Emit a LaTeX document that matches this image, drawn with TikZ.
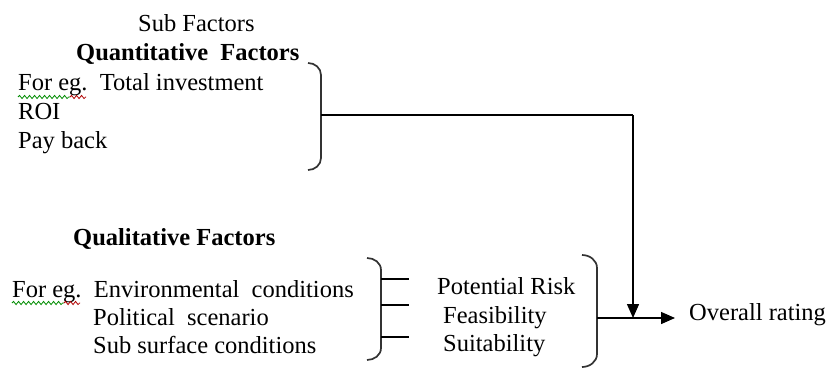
\documentclass[tikz,border=0pt]{standalone}
\usepackage{fontspec}
\setmainfont{Liberation Serif}
\usetikzlibrary{arrows.meta,decorations.pathmorphing}
\begin{document}
\begin{tikzpicture}[x=1pt,y=-1pt,
  txt/.style={inner sep=0pt,anchor=base west,font=\fontsize{24.5}{28}\selectfont},
  hd/.style={txt,font=\fontsize{24.5}{28}\selectfont\bfseries},
  ln/.style={line width=1.4pt,black},
  brk/.style={line width=1.7pt,black!80},
  arr/.style={ln,-{Triangle[length=14pt,width=12pt]}},
  wavy/.style={line width=0.8pt,decorate,decoration={snake,amplitude=1.6pt,segment length=5pt}}]
\useasboundingbox[fill=white] (0,0) rectangle (828,369);
% texts
\node[txt] (sub) at (138,32) {Sub Factors};
\node[hd] (quant) at (76,61) {Quantitative\ \ Factors};
\node[txt] (inv) at (18,91) {For eg.\ \ Total investment};
\node[txt] (roi) at (18,120) {ROI};
\node[txt] (pay) at (18,148) {Pay back};
\node[hd] (qual) at (73,245) {Qualitative Factors};
\node[txt] (env) at (12,297) {For eg.\ \ Environmental\ \ conditions};
\node[txt] (pol) at (93,325) {Political\ \ scenario};
\node[txt] (subs) at (93,353) {Sub surface conditions};
\node[txt] (risk) at (437,294) {Potential Risk};
\node[txt] (feas) at (443,323) {Feasibility};
\node[txt] (suit) at (443,351) {Suitability};
\node[txt] (overall) at (689,320) {Overall rating};
% spell-check underlines
\draw[wavy,green!55!black] ([yshift=-6pt]inv.base west) -- ++(52,0);
\draw[wavy,red!70!black] ([xshift=52pt,yshift=-6pt]inv.base west) -- ++(16,0);
\draw[wavy,green!55!black] ([yshift=-6pt]env.base west) -- ++(52,0);
\draw[wavy,red!70!black] ([xshift=52pt,yshift=-6pt]env.base west) -- ++(16,0);
% bracket A (quantitative)
\draw[brk] (308,63) to[out=0,in=90] (321,75) -- (321,158) to[out=-90,in=0] (308,170);
\coordinate (qa) at (321,115);
% bracket B (qualitative)
\draw[brk] (367,258) to[out=0,in=90] (381,270) -- (381,348) to[out=-90,in=0] (367,360);
\coordinate (b1) at (381,279);
\coordinate (b2) at (381,305);
\coordinate (b3) at (381,337);
\draw[ln] (b1) -- ++(28,0);
\draw[ln] (b2) -- ++(28,0);
\draw[ln] (b3) -- ++(28,0);
% bracket C (risk / feasibility / suitability)
\draw[brk] (582,255) to[out=0,in=90] (597,268) -- (597,354) to[out=-90,in=0] (582,367);
\coordinate (qc) at (597,318);
% connectors
\coordinate (turn) at (633,115);
\coordinate (join) at (633,318);
\draw[ln] (qa) -- (turn);
\draw[arr] (turn) -- (join);
\draw[arr,shorten >=14pt] (qc) -- (overall.west |- qc);
\end{tikzpicture}
\end{document}
